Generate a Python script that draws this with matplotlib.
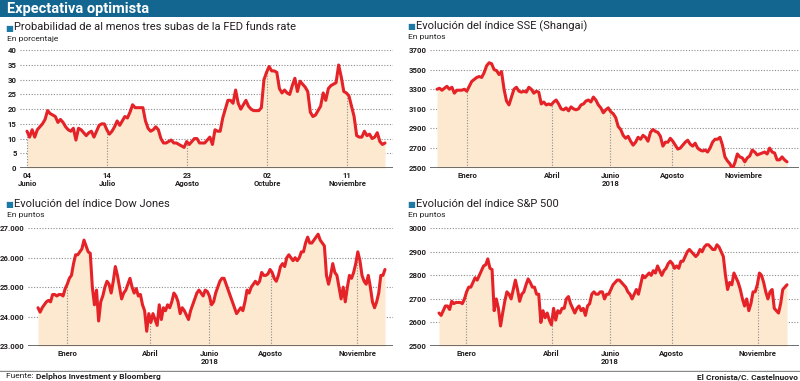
import numpy as np
import matplotlib
matplotlib.use("Agg")
import matplotlib.pyplot as plt
import logging
logging.getLogger("matplotlib.font_manager").setLevel(logging.ERROR)

W, H = 800, 381
COND = ['Liberation Sans Narrow', 'DejaVu Sans Condensed', 'Roboto', 'DejaVu Sans']
plt.rcParams['font.family'] = COND

# ---------------- DATA ----------------
fed_ticks = ["04\nJunio", "14\nJulio", "23\nAgosto", "02\nOctubre", "11\nNoviembre"]
fed_tick_days = [0, 40, 80, 120, 160]
fed_last_day = 179
fed_yticks = [0, 5, 10, 15, 20, 25, 30, 35, 40]
fed_values = [
    12.5, 10.5, 13, 10.5, 13, 14, 15, 16.5, 19.5, 18.5, 18, 17.5, 15.5, 16.5, 15.5, 14,
    13, 12.5, 13.5, 9.5, 13.5, 13, 12, 11, 12, 12.5, 10.5, 12.5, 14.5, 15, 15, 13, 11.5,
    12.5, 14, 16, 14.5, 16, 17.5, 17, 19, 21.5, 20.5, 20.5, 20.5, 20.5, 16, 13.5, 12.5,
    13, 14, 13, 10, 8.5, 8.5, 9, 9.5, 8.5, 8.5, 8, 7.5, 7, 9, 8, 9, 10, 10, 8.5, 8.5,
    8.5, 9.5, 10.5, 8, 13, 12.5, 12.5, 17, 20, 23, 23, 22, 26.5, 22, 20, 21.5, 23, 21,
    20, 19.5, 19.5, 19.5, 20.5, 30, 32.5, 34.5, 33, 33, 32.5, 27, 25.5, 26.5, 25.5, 25,
    28, 30.5, 26, 29.5, 28.5, 27.5, 26, 19, 17.5, 18, 19.5, 21, 25.5, 23, 27, 28, 28.5,
    29, 35, 31, 26, 25.5, 24.5, 21, 17.5, 11, 10.5, 10.5, 12.5, 11, 11.5, 10, 10.5, 12,
    9, 8, 8.5]

month_labels = ["Enero", "Abril", "Junio\n2018", "Agosto", "Noviembre"]

sse_yticks = [2500, 2700, 2900, 3100, 3300, 3500, 3700]
sse_tick_pos = [0.0857, 0.3286, 0.4952, 0.6714, 0.8762]
sse_values = [
    3300, 3310, 3290, 3310, 3330, 3300, 3320, 3260, 3290, 3290, 3290, 3300, 3280, 3330,
    3380, 3400, 3420, 3430, 3420, 3470, 3540, 3570, 3560, 3500, 3490, 3450, 3480, 3300,
    3180, 3140, 3220, 3300, 3320, 3280, 3270, 3280, 3270, 3320, 3300, 3260, 3280, 3270,
    3150, 3170, 3140, 3150, 3140, 3170, 3190, 3150, 3100, 3090, 3110, 3080, 3120, 3100,
    3090, 3100, 3140, 3150, 3180, 3190, 3170, 3220, 3190, 3140, 3110, 3060, 3090, 3110,
    3070, 3050, 3010, 2920, 2890, 2830, 2800, 2820, 2770, 2730, 2760, 2810, 2790, 2830,
    2810, 2770, 2860, 2890, 2870, 2860, 2820, 2720, 2760, 2760, 2800, 2770, 2730, 2690,
    2700, 2730, 2760, 2780, 2740, 2720, 2750, 2700, 2680, 2670, 2680, 2660, 2700, 2760,
    2790, 2790, 2810, 2730, 2610, 2570, 2540, 2490, 2550, 2640, 2610, 2600, 2560, 2600,
    2620, 2680, 2660, 2630, 2640, 2650, 2660, 2640, 2700, 2660, 2650, 2580, 2580, 2610,
    2580, 2560]

dow_yticks = [23000, 24000, 25000, 26000, 27000]
dow_ylabels = ["23.000", "24.000", "25.000", "26.000", "27.000"]
dow_tick_pos = [0.0835, 0.3234, 0.4942, 0.6708, 0.9203]
dow_values = [
    24300, 24150, 24300, 24400, 24500, 24550, 24500, 24750, 24750, 24700, 24750, 24750,
    24700, 24950, 25100, 25300, 25400, 25800, 26100, 26100, 26200, 26300, 26600, 26400,
    26200, 26150, 25000, 24400, 24900, 23850, 24500, 24700, 25000, 25200, 25100, 24800,
    25200, 25700, 25400, 25000, 24600, 24800, 24900, 25100, 25300, 25000, 24800, 24950,
    24700, 24750, 24400, 24200, 23500, 24100, 23800, 24100, 23900, 23700, 24400, 23900,
    24300, 24200, 24400, 24300, 24500, 24800, 24700, 24500, 24100, 24300, 24200, 24050,
    23900, 24200, 24400, 24600, 24800, 24900, 24800, 24700, 24900, 24850, 24700, 24400,
    24500, 24800, 25000, 25200, 25300, 25300, 25100, 24900, 24700, 24500, 24300, 24100,
    24200, 24300, 24200, 24500, 24900, 24800, 25000, 25100, 25200, 25100, 25200, 25500,
    25400, 25400, 25450, 25600, 25500, 25300, 25200, 25400, 25700, 25800, 25700, 26000,
    26100, 26000, 25900, 26000, 25900, 26000, 26200, 26200, 26500, 26700, 26500, 26500,
    26600, 26700, 26800, 26600, 26500, 26400, 25400, 25100, 25400, 25800, 25500, 25400,
    25000, 24600, 25000, 24500, 25000, 25400, 25300, 25500, 25800, 26200, 25900, 25400,
    25200, 25100, 25400, 25000, 24500, 24300, 24500, 24800, 25400, 25400, 25600]

sp_yticks = [2500, 2600, 2700, 2800, 2900, 3000]
sp_tick_pos = [0.0787, 0.3234, 0.4914, 0.6689, 0.9155]
sp_values = [
    2640, 2630, 2650, 2670, 2670, 2655, 2690, 2680, 2685, 2685, 2685, 2680, 2700, 2730,
    2750, 2750, 2770, 2790, 2780, 2800, 2820, 2840, 2845, 2870, 2830, 2825, 2650, 2700,
    2660, 2585, 2640, 2690, 2730, 2720, 2700, 2740, 2780, 2740, 2690, 2720, 2730, 2760,
    2785, 2770, 2750, 2750, 2720, 2720, 2600, 2650, 2620, 2640, 2610, 2590, 2660, 2610,
    2650, 2640, 2660, 2660, 2700, 2710, 2680, 2660, 2640, 2660, 2670, 2650, 2660, 2630,
    2670, 2680, 2720, 2730, 2720, 2720, 2730, 2730, 2700, 2720, 2720, 2740, 2760, 2770,
    2780, 2780, 2770, 2760, 2750, 2730, 2720, 2700, 2720, 2740, 2720, 2760, 2800, 2790,
    2800, 2810, 2800, 2820, 2810, 2840, 2820, 2800, 2820, 2830, 2850, 2860, 2850, 2830,
    2840, 2830, 2860, 2860, 2880, 2900, 2910, 2900, 2890, 2880, 2890, 2910, 2900, 2920,
    2930, 2930, 2920, 2910, 2910, 2930, 2920, 2900, 2880, 2800, 2740, 2770, 2760, 2810,
    2790, 2770, 2740, 2700, 2670, 2700, 2650, 2680, 2730, 2730, 2760, 2810, 2800, 2770,
    2730, 2700, 2730, 2740, 2660, 2650, 2640, 2680, 2740, 2750, 2760]

title = "Expectativa optimista"
panel_titles = ["Probabilidad de al menos tres subas de la FED funds rate",
                "Evolución del índice SSE (Shangai)",
                "Evolución del índice Dow Jones",
                "Evolución del índice S&P 500"]
units = ["En porcentaje", "En puntos", "En puntos", "En puntos"]
source_label = "Fuente: "
source_text = "Delphos Investment y Bloomberg"
credit = "El Cronista/C. Castelnuovo"

# ---------------- STYLE ----------------
BAR = "#12668f"
SQUARE = "#1d7aa5"
RED = "#e52228"
FILL = "#fde9d0"
TXT = "#231f20"
GRID = "#8c8c8c"

fig = plt.figure(figsize=(W / 100, H / 100), dpi=100)
renderer = fig.canvas.get_renderer()


def rect(x0, y0, x1, y1):
    return [x0 / W, 1 - y1 / H, (x1 - x0) / W, (y1 - y0) / H]


def fx(x):
    return x / W


def fy(y):
    return 1 - y / H


def fit(texts, target_px, min_size, max_size):
    total = sum(t.get_window_extent(renderer).width for t in texts)
    size = texts[0].get_fontsize() * target_px / total
    size = max(min_size, min(max_size, size))
    for t in texts:
        t.set_fontsize(size)
    return size


probe = fig.text(0, 0, "27.000", fontsize=10, fontweight="bold")
TICK_SIZE = fit([probe], 19, 5.6, 6.5)
probe.remove()

# title bar
bar = fig.add_axes(rect(0, 0, 800, 16.5))
bar.set_axis_off()
bar.add_patch(plt.Rectangle((0, 0), 1, 1, color=BAR, transform=bar.transAxes))
tt = fig.text(fx(7), fy(8.5), title, color="white", fontsize=11, fontweight="bold",
              va="center", ha="left")
fit([tt], 121, 10.5, 11.5)


def style_axes(ax, x, values, ylim, yticks, ylabels, tpos, tlabels):
    ax.set_ylim(*ylim)
    for s in ax.spines.values():
        s.set_visible(False)
    ax.fill_between(x, ylim[0], values, color=FILL, lw=0, zorder=1)
    for yt in yticks[1:]:
        ax.axhline(yt, color=GRID, lw=0.8, ls=(0, (1, 1.5)), zorder=0.5)
    ax.axhline(ylim[0], color="#555555", lw=1.2, zorder=3)
    for tp in tpos:
        ax.vlines(tp, ylim[0], np.interp(tp, x, values), color=GRID, lw=0.8,
                  ls=(0, (1, 1.5)), zorder=2)
    ax.plot(x, values, color=RED, lw=2.2, solid_joinstyle="round",
            solid_capstyle="round", zorder=4)
    ax.set_yticks(yticks)
    ax.set_yticklabels(ylabels)
    ax.set_xticks(tpos)
    ax.set_xticklabels(tlabels)
    ax.tick_params(axis="both", length=0, labelsize=TICK_SIZE, colors=TXT)
    ax.tick_params(axis="y", pad=2.5)
    ax.tick_params(axis="x", pad=3)
    for lab in ax.get_xticklabels() + ax.get_yticklabels():
        lab.set_fontweight("bold")


# Panel 1: FED
x1 = np.linspace(0, fed_last_day, len(fed_values))
ax1 = fig.add_axes(rect(20, 50.3, 393, 168))
d0, d1 = 27, 347
ppd = (d1 - d0) / 160
ax1.set_xlim((20 - d0) / ppd, (393 - d0) / ppd)
style_axes(ax1, x1, fed_values, (0, 40), fed_yticks, [str(v) for v in fed_yticks],
           fed_tick_days, fed_ticks)


def generic(ax_px, d0, d1, values, ylim, yticks, ylabels, tpos):
    a0, top, a1, bot = ax_px
    x = np.linspace(0, 1, len(values))
    ax = fig.add_axes(rect(a0, top, a1, bot))
    ax.set_xlim((a0 - d0) / (d1 - d0), (a1 - d0) / (d1 - d0))
    style_axes(ax, x, values, ylim, yticks, ylabels, tpos, month_labels)
    return ax


generic((430, 50, 799, 167.7), 437, 787, sse_values, (2500, 3700), sse_yticks,
        [str(v) for v in sse_yticks], sse_tick_pos)
generic((28, 228.3, 393, 346), 38, 385, dow_values, (23000, 27000), dow_yticks,
        dow_ylabels, dow_tick_pos)
generic((430, 228.3, 799, 346), 439, 787, sp_values, (2500, 3000), sp_yticks,
        [str(v) for v in sp_yticks], sp_tick_pos)

# panel titles
title_pos = [(5, 27.5), (407, 26), (5, 204), (407, 204)]
title_w = [237, 147, 129, 121]
unit_pos = [(7, 39), (408, 37.5), (7, 215.5), (408, 215.5)]
unit_w = [45, 33, 33, 33]
for (tx, ty), t, w in zip(title_pos, panel_titles, title_w):
    fig.text(fx(tx), fy(ty + 0.5), "\u25a0", color=SQUARE, fontsize=6, va="center",
             ha="left", family=['DejaVu Sans'])
    ptxt = fig.text(fx(tx + 9), fy(ty), t, color=TXT, fontsize=9, va="center",
                    ha="left")
    fit([ptxt], w, 8, 9)
for (ux, uy), u, w in zip(unit_pos, units, unit_w):
    ut = fig.text(fx(ux), fy(uy), u, color=TXT, fontsize=7, va="center", ha="left")
    fit([ut], w, 6, 7)

# footer
line = fig.add_axes(rect(0, 370, 800, 372))
line.set_axis_off()
line.set_xlim(0, 1)
line.set_ylim(0, 1)
line.axhline(0.5, color="#8a8a8a", lw=1.0)
t1 = fig.text(fx(6), fy(376.5), source_label, color=TXT, fontsize=7, va="center",
              ha="left")
t2 = fig.text(fx(40), fy(376.5), source_text, color=TXT, fontsize=7, va="center",
              ha="left", fontweight="bold")
fit([t1, t2], 117, 6, 7)
t2.set_x(t1.get_window_extent(renderer).x1 / W)
t3 = fig.text(fx(798), fy(376.5), credit, color=TXT, fontsize=7, va="center",
              ha="right", fontweight="bold")
fit([t3], 74, 6, 7)

fig.savefig("out.png", dpi=100)
